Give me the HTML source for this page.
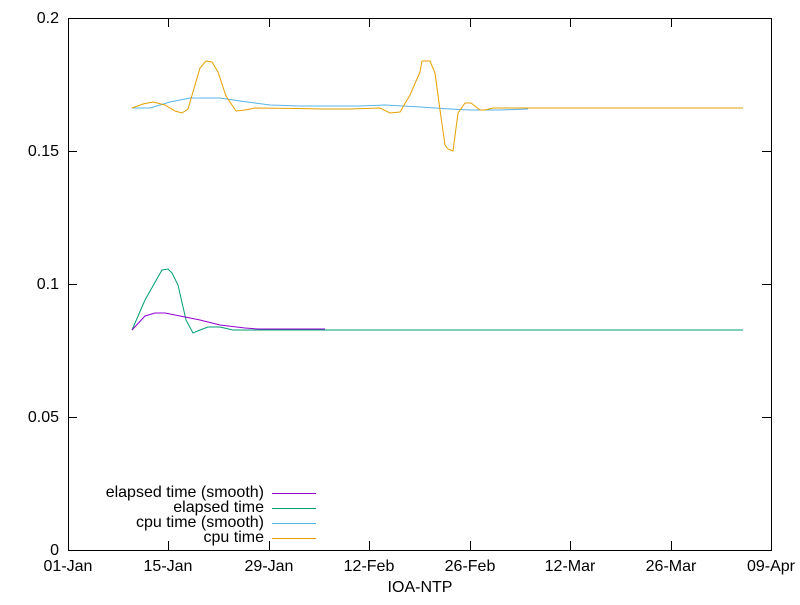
<!DOCTYPE html>
<html><head><style>body{margin:0;background:#fff}</style></head><body>
<svg width="800" height="600" xmlns="http://www.w3.org/2000/svg" font-family="Liberation Sans, sans-serif" font-size="16">
<rect width="800" height="600" fill="#fff"/>
<rect x="68.5" y="18.5" width="703" height="532" fill="none" stroke="#000" stroke-width="1"/>
<g stroke="#000" stroke-width="1">
<path d="M68 550.5h9M771 550.5h-9M68 417.5h9M771 417.5h-9M68 284.5h9M771 284.5h-9M68 151.5h9M771 151.5h-9M68 18.5h9M771 18.5h-9"/>
<path d="M68.5 550v-9M168.5 550v-9M269.5 550v-9M369.5 550v-9M470.5 550v-9M570.5 550v-9M671.5 550v-9M771.5 550v-9M168.5 18v9M269.5 18v9M369.5 18v9M470.5 18v9M570.5 18v9M671.5 18v9"/>
</g>
<g text-anchor="end">
<text x="59" y="555">0</text><text x="59" y="422">0.05</text><text x="59" y="289">0.1</text><text x="59" y="156">0.15</text><text x="59" y="23">0.2</text>
</g>
<g text-anchor="middle">
<text x="68" y="571">01-Jan</text><text x="168" y="571">15-Jan</text><text x="269" y="571">29-Jan</text><text x="369" y="571">12-Feb</text><text x="470" y="571">26-Feb</text><text x="570" y="571">12-Mar</text><text x="671" y="571">26-Mar</text><text x="771" y="571">09-Apr</text>
<text x="420" y="592">IOA-NTP</text>
</g>
<g fill="none" stroke-width="1">
<polyline stroke="#009e73" points="132,330 145,300 162,270 168,269 172,273 178,285 186,320 193,333 200,330 208,327 220,327 233,330 743,330"/>
<polyline stroke="#9400d3" points="132,330 145,316 155,313 165,313 180,316 200,320 220,325 245,328 258,329 325,329"/>
<polyline stroke="#56b4e9" points="132,108 150,108 170,102 190,98 220,98 240,101 270,105 300,106 360,106 385,105 420,107 450,109 470,110 500,110 528,109"/>
<polyline stroke="#e69f00" points="132,108 143,104 153,102 165,105 175,111 182,113 188,109 195,85 200,68 206,61 212,62 218,72 226,96 236,111 245,110 255,108 300,108.5 320,109 350,109 380,108 390,113 400,112 410,95 420,72 422,61 430,61 435,73 440,110 445,145 448,149 453,151 458,113 465,103 471,103 480,110 485,110 493,108 500,108 743,108"/>
</g>
<g text-anchor="end">
<text x="264" y="497">elapsed time (smooth)</text>
<text x="264" y="512">elapsed time</text>
<text x="264" y="527">cpu time (smooth)</text>
<text x="264" y="542">cpu time</text>
</g>
<g stroke-width="1">
<path d="M272 493.5h44" stroke="#9400d3"/>
<path d="M272 508.5h44" stroke="#009e73"/>
<path d="M272 523.5h44" stroke="#56b4e9"/>
<path d="M272 538.5h44" stroke="#e69f00"/>
</g>
</svg>
</body></html>
